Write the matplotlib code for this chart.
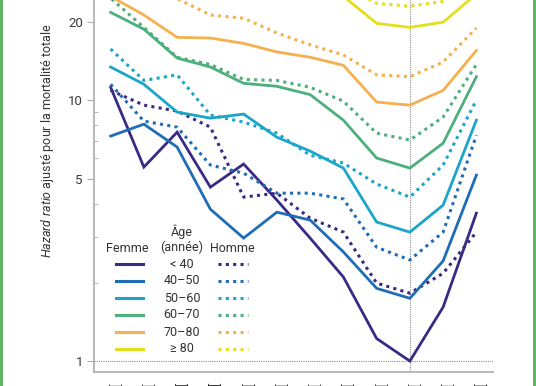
import numpy as np
import matplotlib.pyplot as plt
from matplotlib.lines import Line2D

plt.rcParams['font.family'] = ['Roboto', 'DejaVu Sans']
plt.rcParams['mathtext.fontset'] = 'custom'
plt.rcParams['mathtext.it'] = 'Roboto:italic'
plt.rcParams['mathtext.rm'] = 'Roboto'

# ---- data ----
categories = ['[15 ; 16[', '[16 ; 17[', '[17 ; 18,5[', '[18,5 ; 19[', '[19 ; 20[', '[20 ; 21[',
              '[21 ; 22[', '[22 ; 23[', '[23 ; 24[', '[24 ; 25[', '[25 ; 27[', '[27 ; 30[']
ages = ['< 40', '40–50', '50–60', '60–70', '70–80', '≥ 80']
colors = ['#3b2a84', '#1f6db4', '#1ba6c9', '#4daf7c', '#f5b04f', '#e3df1b']

femme_lt40 = [11.2, 5.54, 7.54, 4.64, 5.69, 4.14, 2.96, 2.10, 1.22, 1.00, 1.61, 3.69]
homme_lt40 = [10.9, 9.57, 9.08, 7.88, 4.25, 4.40, 3.53, 3.12, 1.99, 1.82, 2.17, 3.12]
femme_40_50 = [7.28, 8.09, 6.61, 3.82, 2.96, 3.72, 3.47, 2.62, 1.90, 1.74, 2.42, 5.16]
homme_40_50 = [11.5, 8.31, 7.88, 5.64, 5.25, 4.40, 4.40, 4.18, 2.73, 2.44, 3.12, 7.34]
femme_50_60 = [13.4, 11.5, 9.0, 8.53, 8.84, 7.21, 6.38, 5.49, 3.41, 3.12, 3.96, 8.38]
homme_50_60 = [15.7, 11.9, 12.5, 8.76, 8.24, 7.47, 6.15, 5.74, 4.77, 4.25, 5.64, 10.0]
femme_60_70 = [21.7, 18.7, 14.5, 13.4, 11.6, 11.3, 10.5, 8.38, 6.0, 5.49, 6.84, 12.3]
homme_60_70 = [24.6, 19.0, 14.6, 13.7, 12.0, 11.9, 11.2, 9.91, 7.47, 7.03, 8.61, 13.7]
femme_70_80 = [25.0, 21.2, 17.4, 17.3, 16.5, 15.3, 14.6, 13.6, 9.83, 9.57, 10.9, 15.5]
homme_70_80 = [30.0, 27.0, 24.5, 21.2, 20.6, 18.1, 16.3, 14.9, 12.5, 12.3, 14.0, 18.9]
femme_80 = [45.0, 40.0, 36.0, 34.0, 32.0, 30.0, 28.0, 25.0, 19.7, 19.0, 19.9, 25.5]
homme_80 = [55.0, 48.0, 43.0, 40.0, 37.0, 34.0, 31.0, 27.5, 23.5, 22.9, 23.9, 28.0]

femme = [femme_lt40, femme_40_50, femme_50_60, femme_60_70, femme_70_80, femme_80]
homme = [homme_lt40, homme_40_50, homme_50_60, homme_60_70, homme_70_80, homme_80]

W, H = 536, 386
fig = plt.figure(figsize=(W / 100, H / 100), dpi=100)
ax = fig.add_axes([94 / W, 14 / H, 399 / W, 372 / H])

x = np.arange(len(categories))
dots = (0, (1.0, 1.4))
for i in range(len(ages)):
    ax.plot(x, femme[i], color=colors[i], lw=2.0, solid_joinstyle='miter')
    ax.plot(x, homme[i], color=colors[i], lw=2.2, ls=dots)

ax.set_yscale('log')
ax.set_ylim(0.908, 24.2)
ax.set_xlim(-0.5, 11.5)

ax.axhline(1, color='#8a8a8a', lw=0.8, ls=(0, (1, 1)), zorder=0)
ax.axvline(9, color='#8a8a8a', lw=0.8, ls=(0, (1, 1)), zorder=0)

for s in ['top', 'right']:
    ax.spines[s].set_visible(False)
for s in ['left', 'bottom']:
    ax.spines[s].set_color('#ababab')
    ax.spines[s].set_linewidth(1.2)

ax.set_yticks([1, 5, 10, 20], labels=['1', '5', '10', '20'])
ax.set_yticks([2, 3, 4, 6, 7, 8, 9], minor=True)
ax.yaxis.set_minor_formatter(plt.NullFormatter())
ax.tick_params(axis='y', which='major', direction='out', length=5, color='#ababab',
               labelsize=9.5, labelcolor='#3a3a3a', pad=3)
ax.tick_params(axis='y', which='minor', direction='in', length=3, color='#ababab')

# category labels hang below the visible area (only their tips show)
ax.set_xticks(x, labels=categories, rotation=90, ha='right', va='top',
              rotation_mode='anchor')
ax.set_xticks(x[1::2], minor=True)
ax.tick_params(axis='x', which='major', length=0, labelsize=9, labelcolor='#3a3a3a', pad=8)
ax.tick_params(axis='x', which='minor', direction='in', length=5, color='#ababab')

ax.set_ylabel(r'$\mathit{Hazard\ ratio}$ ajusté pour la mortalité totale',
              fontsize=9, color='#333333')
ax.yaxis.set_label_coords(-0.095, 0.621)

# ---- legend drawn as a small table ----
def fx(px):
    return px / W

def fy(py):
    return 1 - py / H

tc = '#333333'
fig.text(fx(182), fy(232), 'Âge', ha='center', va='center', fontsize=9, color=tc)
fig.text(fx(182), fy(247), '(année)', ha='center', va='center', fontsize=9, color=tc)
fig.text(fx(127), fy(249), 'Femme', ha='center', va='center', fontsize=9, color=tc)
fig.text(fx(232), fy(249), 'Homme', ha='center', va='center', fontsize=9, color=tc)
row_y = [264, 281, 298, 315, 332, 349]
for i, lab in enumerate(ages):
    yy = fy(row_y[i])
    fig.add_artist(Line2D([fx(116), fx(143)], [yy, yy], color=colors[i], lw=2.2,
                          transform=fig.transFigure))
    fig.add_artist(Line2D([fx(218), fx(248)], [yy, yy], color=colors[i], lw=2.2, ls=dots,
                          transform=fig.transFigure))
    fig.text(fx(182), yy, lab, ha='center', va='center', fontsize=9, color=tc)

# green page frame at both sides
frame = '#55b05a'
for px in [1.3, 533.7]:
    fig.add_artist(Line2D([fx(px), fx(px)], [0, 1], color=frame, lw=2.0,
                          transform=fig.transFigure))

fig.savefig('out.png', dpi=100)
